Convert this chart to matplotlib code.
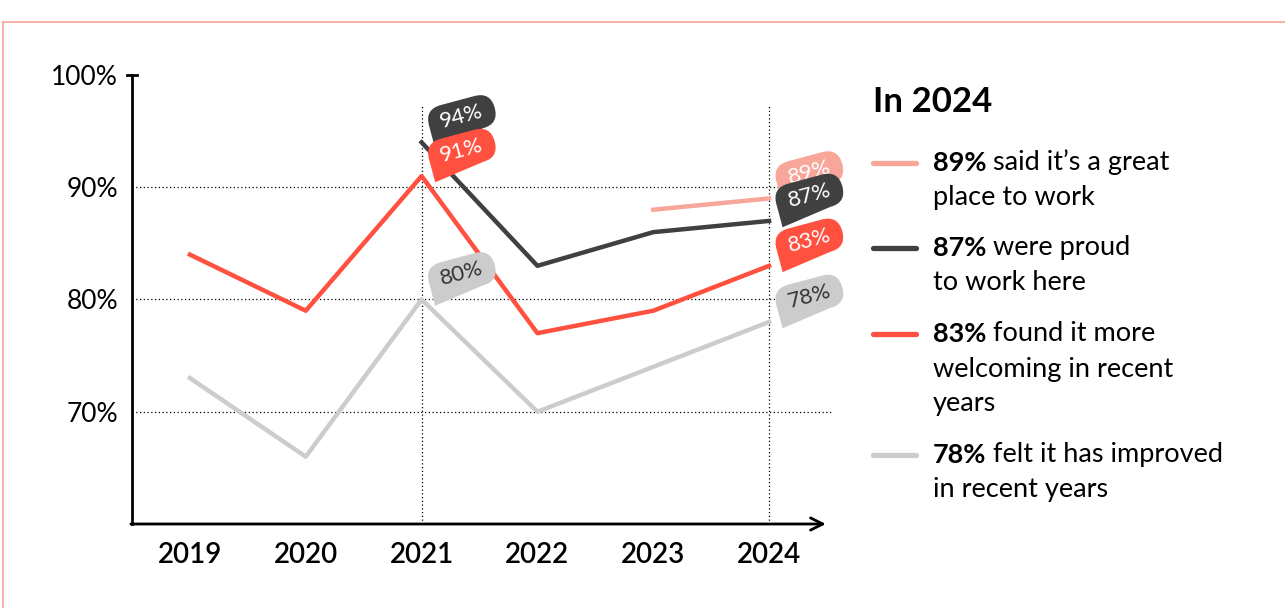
import numpy as np
import matplotlib.pyplot as plt
from matplotlib.path import Path
from matplotlib.lines import Line2D

plt.rcParams['font.family'] = ['Lato', 'DejaVu Sans']

# data
years = [2019, 2020, 2021, 2022, 2023, 2024]
great_years = [2023, 2024]
great = [88, 89]
proud_years = [2021, 2022, 2023, 2024]
proud = [94, 83, 86, 87]
welcoming = [84, 79, 91, 77, 79, 83]
improved = [73, 66, 80, 70, 74, 78]

yticks = [70, 80, 90, 100]
ytick_labels = ['70%', '80%', '90%', '100%']

c_great = '#F9A69A'
c_proud = '#404040'
c_welcome = '#FF5040'
c_improved = '#CCCCCC'

legend_title = 'In 2024'
legend_items = [
    (c_great, '89%', ' said it\u2019s a great', ['place to work']),
    (c_proud, '87%', ' were proud', ['to work here']),
    (c_welcome, '83%', ' found it more', ['welcoming in recent', 'years']),
    (c_improved, '78%', ' felt it has improved', ['in recent years']),
]


# speech bubble shaped box for the value labels
def badge(x0, y0, width, height, mutation_size):
    px, py = 0.55 * mutation_size, 0.3 * mutation_size
    x0, y0 = x0 - px, y0 - py
    x1, y1 = x0 + width + 2 * px, y0 + height + 2 * py
    r = 0.5 * (y1 - y0)
    t = 0.22 * (y1 - y0)
    verts = [(x0, y0 - t), (x1 - r, y0), (x1, y0), (x1, y0 + r),
             (x1, y1 - r), (x1, y1), (x1 - r, y1), (x0 + r, y1),
             (x0, y1), (x0, y1 - r), (x0, y0 - t), (x0, y0 - t)]
    codes = [Path.MOVETO, Path.LINETO, Path.CURVE3, Path.CURVE3,
             Path.LINETO, Path.CURVE3, Path.CURVE3, Path.LINETO,
             Path.CURVE3, Path.CURVE3, Path.LINETO, Path.CLOSEPOLY]
    return Path(verts, codes)


fig = plt.figure(figsize=(12.85, 6.08), dpi=100)
ax = fig.add_axes([132 / 1285, 84 / 608, 695 / 1285, 449 / 608])
ax.set_xlim(2018.5, 2024.5)
ax.set_ylim(60, 100)

# grid
for v in [70, 80, 90]:
    ax.plot([2018.5, 2024.55], [v, v], color='black', lw=0.9, ls=(0, (1, 2)), zorder=1, clip_on=False)
for yr in [2021, 2024]:
    ax.plot([yr, yr], [60, 97.4], color='black', lw=0.9, ls=(0, (1, 2)), zorder=1)

lw = 3.2
ax.plot(years, improved, color=c_improved, lw=lw, zorder=3)
ax.plot(years, welcoming, color=c_welcome, lw=lw, zorder=4)
ax.plot(proud_years, proud, color=c_proud, lw=lw, zorder=3.5)
ax.plot(great_years, great, color=c_great, lw=lw, zorder=3)


def label(x, y, txt, fc, tc):
    ax.annotate(txt, xy=(x, y), xytext=(29, 18.5), textcoords='offset points',
                ha='center', va='center', rotation=15, fontsize=16, color=tc,
                bbox=dict(boxstyle=badge, fc=fc, ec='none'), zorder=6)


label(2021, proud[0], '94%', c_proud, 'white')
label(2021, welcoming[2], '91%', c_welcome, 'white')
label(2021, improved[2], '80%', c_improved, '#333333')
label(2024, great[-1], '89%', c_great, 'white')
label(2024, proud[-1], '87%', c_proud, 'white')
label(2024, welcoming[-1], '83%', c_welcome, 'white')
label(2024, improved[-1], '78%', c_improved, '#333333')

# axes
for s in ['top', 'right', 'bottom']:
    ax.spines[s].set_visible(False)
ax.spines['left'].set_linewidth(2)
ax.plot([2018.46, 2018.54], [100, 100], color='black', lw=2, clip_on=False)
ax.annotate('', xy=(2024.49, 60), xytext=(2018.49, 60),
            arrowprops=dict(arrowstyle='->', lw=2, color='black', mutation_scale=22,
                            shrinkA=0, shrinkB=0), annotation_clip=False)
ax.set_yticks(yticks)
ax.set_yticklabels(ytick_labels, fontsize=19)
ax.set_xticks(years)
ax.set_xticklabels([str(y) for y in years], fontsize=20, fontweight='semibold')
ax.tick_params(axis='both', length=0)
ax.tick_params(axis='y', pad=10)
ax.tick_params(axis='x', pad=13)

# legend
W, H = 1285, 608
fig.text(873 / W, 1 - 102 / H, legend_title, fontsize=25, fontweight='bold', va='center')
line_y = [163, 248, 334, 455]
for (col, bold, rest, more), yy in zip(legend_items, line_y):
    fig.add_artist(Line2D([873 / W, 916 / W], [1 - yy / H, 1 - yy / H], color=col, lw=3.8,
                          solid_capstyle='round'))
    bt = fig.text(933 / W, 1 - yy / H, bold, fontsize=19.5, fontweight='bold', va='center')
    ax.annotate(rest, xy=(1, 0), xycoords=bt, va='bottom', ha='left', fontsize=19.5,
                annotation_clip=False)
    for i, m in enumerate(more):
        fig.text(933 / W, 1 - (yy + 35 * (i + 1)) / H, m, fontsize=19.5, va='center')

# border
border = '#F7A297'
fig.add_artist(Line2D([3 / W, 1], [1 - 22 / H, 1 - 22 / H], color=border, lw=1.2))
fig.add_artist(Line2D([3 / W, 3 / W], [0, 1 - 22 / H], color=border, lw=1.2))

fig.savefig('out.png', dpi=100)
